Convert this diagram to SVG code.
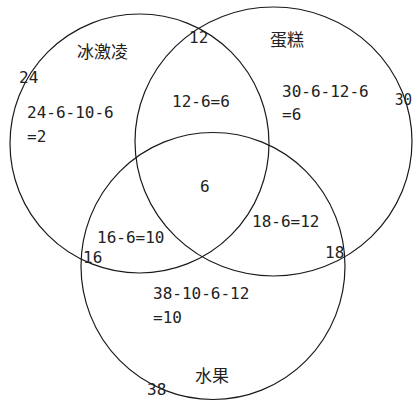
<svg xmlns="http://www.w3.org/2000/svg" width="414" height="403" viewBox="0 0 414 403">
<style>
.ring{fill:none;stroke:#1a1a1a;stroke-width:1.2}
.num{font-family:"DejaVu Sans Mono","Liberation Mono",monospace;font-size:16px;fill:#222}
.cn{font-family:"Noto Sans CJK SC","Noto Sans CJK JP",sans-serif;font-size:17px;fill:#222}
</style>
<rect width="414" height="403" fill="#fff"/>
<g id="icecream">
<circle class="ring" cx="139.5" cy="143.5" r="129.5"/>
<text class="cn" x="77" y="58">冰激凌</text>
<text class="num" x="19" y="83">24</text>
</g>
<g id="cake">
<ellipse class="ring" cx="273.5" cy="141.5" rx="138.5" ry="134.5"/>
<text class="cn" x="270" y="46">蛋糕</text>
<text class="num" x="395" y="105" textLength="17" lengthAdjust="spacingAndGlyphs">30</text>
</g>
<g id="fruit">
<ellipse class="ring" cx="213" cy="266" rx="132" ry="133.5"/>
<text class="cn" x="195" y="382">水果</text>
<text class="num" x="147" y="395">38</text>
</g>
<g id="regions">
<text class="num" x="27" y="118">24-6-10-6</text>
<text class="num" x="27" y="142">=2</text>
<text class="num" x="189" y="43">12</text>
<text class="num" x="172" y="107">12-6=6</text>
<text class="num" x="282" y="97">30-6-12-6</text>
<text class="num" x="282" y="120">=6</text>
<text class="num" x="200" y="192">6</text>
<text class="num" x="97" y="243">16-6=10</text>
<text class="num" x="83" y="263">16</text>
<text class="num" x="252" y="227">18-6=12</text>
<text class="num" x="325" y="258">18</text>
<text class="num" x="153" y="299">38-10-6-12</text>
<text class="num" x="153" y="323">=10</text>
</g>
<g id="connectors"/>
</svg>
